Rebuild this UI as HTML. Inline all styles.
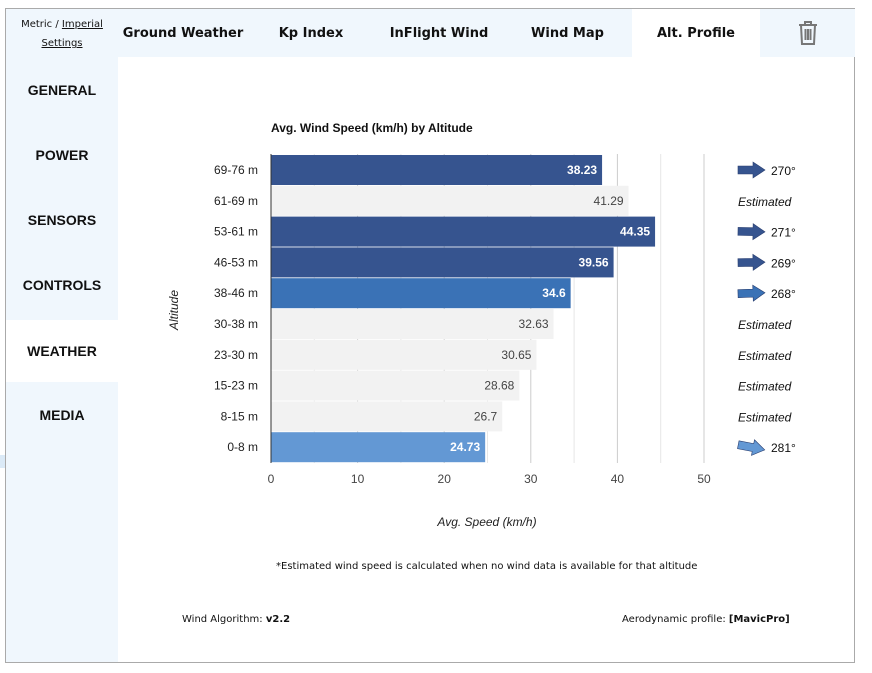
<!DOCTYPE html>
<html><head><meta charset="utf-8">
<style>
body{margin:0;width:872px;height:673px;background:#fff;font-family:"Liberation Sans",sans-serif;position:relative;overflow:hidden}
.abs{position:absolute}
.frame{left:5px;top:8px;width:850px;height:655px;border:1px solid #aaa;box-sizing:border-box}
.tabbar{left:6px;top:9px;width:849px;height:48px;background:#f0f7fd}
.tab{top:9px;height:48px;line-height:50px;font-family:"DejaVu Sans",sans-serif;font-weight:bold;font-size:13px;text-align:center;color:#111}
.side{left:6px;top:57px;width:112px;height:605px;background:#f0f7fd}
.si{left:6px;width:112px;height:62px;line-height:62px;text-align:center;font-weight:bold;font-size:14px;color:#111}
.small{font-family:"DejaVu Sans",sans-serif;font-size:10px;color:#111}
</style></head><body>
<div class="abs frame"></div>
<div class="abs tabbar"></div>
<div class="abs" style="left:6px;top:15px;width:112px;text-align:center;font-family:'DejaVu Sans',sans-serif;font-size:10px;line-height:19px;color:#111">Metric / <u>Imperial</u><br><u>Settings</u></div>
<div class="abs tab" style="left:118px;width:130px">Ground Weather</div>
<div class="abs tab" style="left:250px;width:122px">Kp Index</div>
<div class="abs tab" style="left:375px;width:128px">InFlight Wind</div>
<div class="abs tab" style="left:505px;width:125px">Wind Map</div>
<div class="abs tab" style="left:632px;width:128px;background:#fff">Alt. Profile</div>
<svg class="abs" style="left:797px;top:21px" width="22" height="24"><g fill="none" stroke="#777" stroke-width="2"><path d="M2 4h18M8 4V1h6v3M4 4l1 19h12l1-19M8.5 8v11M11 8v11M13.5 8v11"/></g></svg>
<div class="abs side"></div>
<div class="abs si" style="top:59px">GENERAL</div>
<div class="abs si" style="top:124px">POWER</div>
<div class="abs si" style="top:189px">SENSORS</div>
<div class="abs si" style="top:254px">CONTROLS</div>
<div class="abs si" style="top:320px;background:#fff">WEATHER</div>
<div class="abs si" style="top:384px">MEDIA</div>
<div class="abs" style="left:0;top:455px;width:5px;height:13px;background:#dbeaf7"></div>
<svg class="abs" style="left:0;top:0" width="872" height="673" id="chart">
<text x="271" y="132" font-size="12" font-weight="bold" font-family="Liberation Sans" fill="#111">Avg. Wind Speed (km/h) by Altitude</text>
<text transform="translate(178,310) rotate(-90)" text-anchor="middle" font-size="12" font-style="italic" font-family="Liberation Sans" fill="#222">Altitude</text>
<text x="487" y="526" text-anchor="middle" font-size="12" font-style="italic" font-family="Liberation Sans" fill="#222">Avg. Speed (km/h)</text>
<g id="grid"></g><g id="bars"></g><g id="labels"></g><g id="dirs"></g>
</svg>
<div class="abs small" style="left:276px;top:561px">*Estimated wind speed is calculated when no wind data is available for that altitude</div>
<div class="abs small" style="left:182px;top:614px">Wind Algorithm: <b>v2.2</b></div>
<div class="abs small" style="left:622px;top:614px">Aerodynamic profile: <b>[MavicPro]</b></div>
<script>
const categories=["69-76 m","61-69 m","53-61 m","46-53 m","38-46 m","30-38 m","23-30 m","15-23 m","8-15 m","0-8 m"];
const speeds=[38.23,41.29,44.35,39.56,34.6,32.63,30.65,28.68,26.7,24.73];
const directions=[270,null,271,269,268,null,null,null,null,281];
const kinds=["dark","est","dark","dark","mid","est","est","est","est","light"];
const xTicks=[0,10,20,30,40,50];
const NS="http://www.w3.org/2000/svg";
const x0=271,pxu=8.66,top0=155,pitch=30.8,bh=30;
const xs=v=>x0+v*pxu, ys=i=>top0+i*pitch;
const fills={dark:"#36548f",mid:"#3a72b6",light:"#6398d4",est:"#f2f2f2"};
const arrowFill={dark:"#36548f",mid:"#3a72b6",light:"#6398d4"};
function mk(t,a,p){const e=document.createElementNS(NS,t);for(const k in a)e.setAttribute(k,a[k]);document.getElementById(p).appendChild(e);return e;}
for(let v=0;v<=50;v+=5){
 const l=mk("line",{x1:xs(v),x2:xs(v),y1:154,y2:463,stroke:v%10?"#e6e6e6":"#ccc"},"grid");
 
 
}
xTicks.forEach(v=>{
 const t=mk("text",{x:xs(v),y:483,"text-anchor":"middle","font-size":12,"font-family":"Liberation Sans",fill:"#444"},"labels");
 t.textContent=v;
 
 
});
categories.forEach((c,i)=>{
 const y=ys(i),k=kinds[i];
 const r=mk("rect",{x:x0,y:y,width:xs(speeds[i])-x0,height:bh,fill:fills[k]},"bars");
 
 
 const cl=mk("text",{x:258,y:y+bh/2+4,"text-anchor":"end","font-size":12,"font-family":"Liberation Sans",fill:"#222"},"labels");
 cl.textContent=c;
 
 
 const vl=mk("text",{x:xs(speeds[i])-5,y:y+bh/2+4,"text-anchor":"end","font-size":12,"font-family":"Liberation Sans","font-weight":k==="est"?"normal":"bold",fill:k==="est"?"#444":"#fff"},"labels");
 vl.textContent=speeds[i];
 
 
 const cy=y+bh/2;
 if(directions[i]===null){
  const e=mk("text",{x:738,y:cy+5,"font-size":12,"font-style":"italic","font-family":"Liberation Sans",fill:"#111"},"dirs");
  e.textContent="Estimated";
  
  
 } else {
  const g=mk("g",{transform:`translate(751,${cy}) rotate(${directions[i]-270})`},"dirs");
  
  
  const p=document.createElementNS(NS,"path");
  p.setAttribute("d","M-13,-4H2V-8L14,0L2,8V4H-13Z");p.setAttribute("fill",arrowFill[k]);p.setAttribute("stroke","#2a3f70");p.setAttribute("stroke-width","0.6");
  g.appendChild(p);
  const d=mk("text",{x:771,y:cy+5,"font-size":12,"font-family":"Liberation Sans",fill:"#111"},"dirs");
  d.textContent=directions[i]+"°";
  
  
 }
});
mk("line",{x1:x0,x2:x0,y1:154,y2:463,stroke:"#333"},"bars");
</script>
</body></html>
